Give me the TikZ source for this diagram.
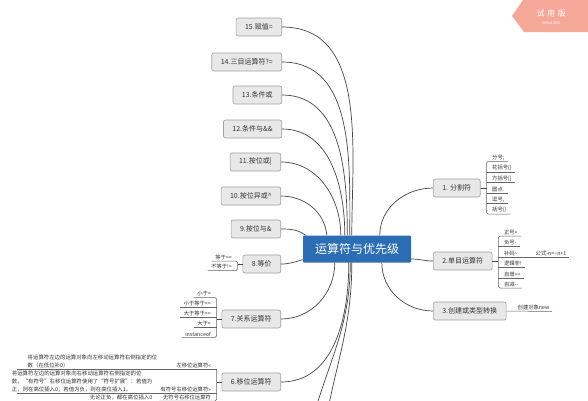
\documentclass[tikz,border=0pt]{standalone}
\usepackage{fontspec}
\setmainfont{Noto Sans CJK SC}
\usetikzlibrary{calc}
\definecolor{cblue}{RGB}{44,110,181}
\definecolor{tfill}{RGB}{232,232,232}
\definecolor{tborder}{RGB}{160,160,160}
\definecolor{textc}{RGB}{51,51,51}
\definecolor{linec}{RGB}{70,70,70}
\definecolor{ulc}{RGB}{100,100,100}
\definecolor{wmc}{RGB}{246,168,152}
\begin{document}
\begin{tikzpicture}[x=1pt,y=-1pt,
  topic/.style={draw=tborder, fill=tfill, rounded corners=2pt, font=\fontsize{7}{8}\selectfont, text=textc, minimum height=18pt, inner xsep=9pt, inner ysep=0pt, line width=0.6pt},
  central/.style={fill=cblue, text=white, font=\fontsize{12}{13}\selectfont, minimum width=108pt, minimum height=27pt, inner sep=0pt, rounded corners=1pt},
  leaf/.style={font=\fontsize{5.3}{6}\selectfont, text=textc, inner xsep=1.5pt, inner ysep=1pt},
  para/.style={font=\fontsize{5.4}{8}\selectfont, text=textc, inner xsep=1.5pt, inner ysep=0.6pt, align=left},
  conn/.style={draw=linec, line width=0.7pt},
  ul/.style={draw=ulc, line width=0.5pt},
  brk/.style={draw=ulc, line width=0.5pt, rounded corners=1.5pt}]
\useasboundingbox (0,0) rectangle (588,400);
\clip (0,0) rectangle (588,400);
\fill[white] (0,0) rectangle (588,400);

% central
\node[central] (c) at (357,249) {运算符与优先级};

% left topics
\node[topic, anchor=east] (n15) at (282,27) {15.赋值=};
\node[topic, anchor=east] (n14) at (282,62) {14.三目运算符?=};
\node[topic, anchor=east] (n13) at (282,95) {13.条件或};
\node[topic, anchor=east] (n12) at (282,129) {12.条件与\&\&};
\node[topic, anchor=east] (n11) at (281,162) {11.按位或|};
\node[topic, anchor=east] (n10) at (281,196) {10.按位异或\textasciicircum};
\node[topic, anchor=east] (n9) at (281,229) {9.按位与\&};
\node[topic, anchor=east] (n8) at (281,264) {8.等价};
\node[topic, anchor=east] (n7) at (281,319) {7.关系运算符};
\node[topic, anchor=east] (n6) at (281,382) {6.移位运算符};

% right topics
\node[topic, anchor=west] (r1) at (433,188) {1. 分割符};
\node[topic, anchor=west] (r2) at (433,261) {2.单目运算符};
\node[topic, anchor=west] (r3) at (433,311) {3.创建或类型转换};

% main connectors
\draw[conn] (n15.east) to[out=0,in=90] ([xshift=49pt]c.north west);
\draw[conn] (n14.east) to[out=0,in=90] ([xshift=47pt]c.north west);
\draw[conn] (n13.east) to[out=0,in=90] ([xshift=44.5pt]c.north west);
\draw[conn] (n12.east) to[out=0,in=90] ([xshift=42pt]c.north west);
\draw[conn] (n11.east) to[out=0,in=90] ([xshift=38pt]c.north west);
\draw[conn] (n10.east) to[out=0,in=95] ([xshift=24pt]c.north west);
\draw[conn] (n9.east) to[out=0,in=145] ([xshift=3pt]c.north west);
\draw[conn] (n8.east) to[out=0,in=195] ([yshift=3pt]c.south west);
\draw[conn] ([xshift=32pt]c.south west) to[out=-90,in=0] (n7.east);
\draw[conn] ([xshift=46pt]c.south west) to[out=-90,in=0] (n6.east);
\coordinate (offa) at (311,425);
\coordinate (offb) at (325,425);
\draw[conn] ([xshift=47.5pt]c.south west) to[out=-90,in=75] (offa);
\draw[conn] ([xshift=49pt]c.south west) to[out=-90,in=80] (offb);
\draw[conn] ([xshift=77pt]c.north west) to[out=90,in=180] (r1.west);
\draw[conn] ([yshift=-10pt]c.east) to[out=0,in=180] (r2.west);
\draw[conn] ([xshift=79pt]c.south west) to[out=-90,in=180] (r3.west);

% children of 1
\coordinate (b1) at ([xshift=6pt]r1.east);
\node[leaf, anchor=south west] (a11) at ([xshift=4pt]b1 |- 0,161.5) {分号;};
\node[leaf, anchor=south west] (a12) at ([xshift=4pt]b1 |- 0,172) {花括号\{\}};
\node[leaf, anchor=south west] (a13) at ([xshift=4pt]b1 |- 0,182.5) {方括号[]};
\node[leaf, anchor=south west] (a14) at ([xshift=4pt]b1 |- 0,193) {圆点.};
\node[leaf, anchor=south west] (a15) at ([xshift=4pt]b1 |- 0,203.5) {逗号,};
\node[leaf, anchor=south west] (a16) at ([xshift=4pt]b1 |- 0,214) {括号()};
\draw[brk] ([xshift=2pt]a11.south east) -- (b1 |- a11.south) -- (b1 |- a16.south) -- ([xshift=2pt]a16.south east);
\foreach \k in {a12,a13,a14,a15} \draw[ul] (b1 |- \k.south) -- ([xshift=2pt]\k.south east);
\draw[conn] (r1.east) -- (b1);

% children of 2
\coordinate (b2) at ([xshift=6pt]r2.east);
\node[leaf, anchor=south west] (a21) at ([xshift=4pt]b2 |- 0,236) {正号+};
\node[leaf, anchor=south west] (a22) at ([xshift=4pt]b2 |- 0,246.5) {负号-};
\node[leaf, anchor=south west] (a23) at ([xshift=4pt]b2 |- 0,257) {补码\textasciitilde};
\node[leaf, anchor=south west] (a24) at ([xshift=4pt]b2 |- 0,267.5) {逻辑非!};
\node[leaf, anchor=south west] (a25) at ([xshift=4pt]b2 |- 0,278) {自增++};
\node[leaf, anchor=south west] (a26) at ([xshift=4pt]b2 |- 0,288) {自减-{}-};
\draw[brk] ([xshift=2pt]a21.south east) -- (b2 |- a21.south) -- (b2 |- a26.south) -- ([xshift=2pt]a26.south east);
\foreach \k in {a22,a23,a24,a25} \draw[ul] (b2 |- \k.south) -- ([xshift=2pt]\k.south east);
\draw[conn] (r2.east) -- (b2);
\node[leaf, anchor=south west] (f2) at (534,257) {公式-n=\textasciitilde n+1};
\draw[ul] ([xshift=2pt]a23.south east) -- ([xshift=1pt]f2.south east);

% child of 3
\node[leaf, anchor=south west] (a31) at (516,311.5) {创建对象new};
\draw[ul] (r3.east) -- ([xshift=1pt]a31.south east);

% children of 8
\coordinate (b8) at ([xshift=-5pt]n8.west);
\node[leaf, anchor=south east] (a81) at ([xshift=-4pt]b8 |- 0,261) {等于==};
\node[leaf, anchor=south east] (a82) at ([xshift=-4pt]b8 |- 0,270.5) {不等于!=};
\draw[brk] ([xshift=-2pt]a81.south west) -- (b8 |- a81.south) -- (b8 |- a82.south) -- ([xshift=-2pt]a82.south west);
\draw[conn] (n8.west) -- (b8);

% children of 7
\coordinate (b7) at ([xshift=-5pt]n7.west);
\node[leaf, anchor=south east] (a71) at ([xshift=-4pt]b7 |- 0,297.5) {小于<};
\node[leaf, anchor=south east] (a72) at ([xshift=-4pt]b7 |- 0,307.5) {小于等于<=};
\node[leaf, anchor=south east] (a73) at ([xshift=-4pt]b7 |- 0,317.5) {大于等于>=};
\node[leaf, anchor=south east] (a74) at ([xshift=-4pt]b7 |- 0,327.5) {大于>};
\node[leaf, anchor=south east] (a75) at ([xshift=-4pt]b7 |- 0,337.5) {instanceof};
\draw[brk] ([xshift=-2pt]a71.south west) -- (b7 |- a71.south) -- (b7 |- a75.south) -- ([xshift=-2pt]a75.south west);
\foreach \k in {a72,a73,a74} \draw[ul] (b7 |- \k.south) -- ([xshift=-2pt]\k.south west);
\draw[conn] (n7.west) -- (b7);

% children of 6
\coordinate (b6) at ([xshift=-5pt]n6.west);
\node[leaf, anchor=south east] (a61) at ([xshift=-4pt]b6 |- 0,369) {左移位运算符<<};
\node[leaf, anchor=south east] (a62) at ([xshift=-4pt]b6 |- 0,393) {有符号右移位运算符>>};
\node[leaf, anchor=south east] (a63) at ([xshift=-4pt]b6 |- 0,401) {无符号右移位运算符};
\draw[brk] (b6 |- a61.south) -- (b6 |- a63.south) -- ([xshift=-2pt]a63.south west);
\draw[conn] (n6.west) -- (b6);

\node[para, anchor=south east] (p1) at (159,369) {将运算符左边的运算对象向左移动运算符右侧指定的位\\数（在低位补0）};
\node[para, anchor=south east] (p2) at (154,393.5) {将运算符左边的运算对象向右移动运算符右侧指定的位\\数，“有符号”右移位运算符使用了“符号扩展”：若值为\\正，则在高位插入0；若值为负，则在高位插入1。};
\node[para, anchor=south east] (p3) at (154,401) {无论正负，都在高位插入0};
\coordinate (p1l) at (17,369);
\coordinate (p2l) at (17,393);
\draw[brk] (p1l) -- (b6 |- p1l);
\draw[ul] (p2l) -- (b6 |- p2l);
\draw[ul] (p3.south west) -- (b6 |- p3.south);

% watermark
\fill[wmc] (523,0) -- (512,16) -- (524,32) -- (588,32) -- (588,0) -- cycle;
\node[text=white, font=\fontsize{8}{8}\selectfont] (wm1) at (551,13) {试\hspace{2.5pt}用\hspace{2.5pt}版};
\node[text=white, font=\fontsize{3.5}{4}\selectfont] (wm2) at (551,23) {XMind ZEN};
\end{tikzpicture}
\end{document}
